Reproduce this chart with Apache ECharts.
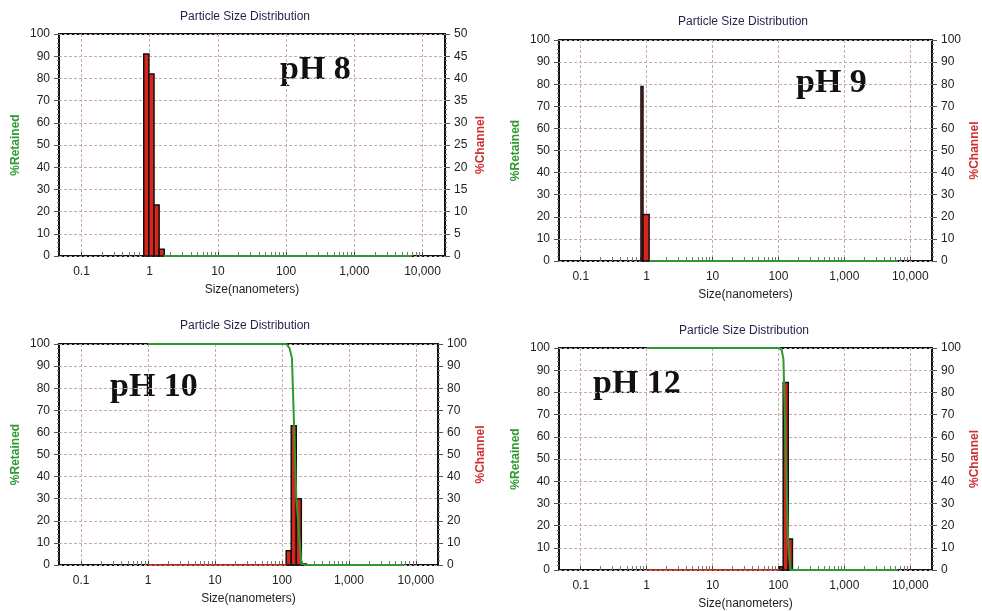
<!DOCTYPE html>
<html>
<head>
<meta charset="utf-8">
<title>Particle Size Distribution</title>
<script src="https://cdn.jsdelivr.net/npm/echarts@6/dist/echarts.min.js"></script>
<style>
  html, body { margin: 0; padding: 0; background: #fff; }
  #chart { width: 982px; height: 611px; }
</style>
</head>
<body>
<div id="chart"></div>
<script>
// panels, in reading order
const panelLabels = ['pH 8', 'pH 9', 'pH 10', 'pH 12'];
const channelMax = [50, 100, 100, 100];

// x axis (size, nm, log scale)
const xTickSizes = [0.1, 1, 10, 100, 1000, 10000];
const xTickLabels = ['0.1', '1', '10', '100', '1,000', '10,000'];
const minorTickSizes = [0.2, 0.3, 0.4, 0.5, 0.6, 0.7, 0.8, 0.9,
  2, 3, 4, 5, 6, 7, 8, 9, 20, 30, 40, 50, 60, 70, 80, 90,
  200, 300, 400, 500, 600, 700, 800, 900, 2000, 3000, 4000, 5000, 6000, 7000, 8000, 9000];

// %Channel histogram: channel edges (nm) and % per channel
const ph8Edges = [0.818, 0.972, 1.156, 1.375, 1.635];
const ph8Channel = [45.5, 41, 11.5, 1.5];
const ph9Edges = [0.82, 0.88, 1.09];
const ph9Channel = [79, 21];
const ph10Edges = [115.6, 137.5, 163.5, 194.5, 231.3];
const ph10Channel = [6.5, 63, 30, 0.5];
const ph12Edges = [104, 118, 141, 163];
const ph12Channel = [1.5, 84.5, 14];
// where the zero line of the histogram starts (nm)
const channelStart = [null, null, 1, 1];

// %Retained curve
const ph8RetSize = [1.6, 7000];
const ph8RetPct = [0, 0];
const ph9RetSize = [1.1, 6500];
const ph9RetPct = [0, 0];
const ph10RetSize = [1, 117, 130, 141, 163.5, 194.5, 231.3, 6700];
const ph10RetPct = [100, 100, 98, 93.5, 30.5, 0.5, 0, 0];
const ph12RetSize = [1, 104, 112, 119, 141, 152, 6500];
const ph12RetPct = [100, 100, 99, 95, 10, 0, 0];

const edges = [ph8Edges, ph9Edges, ph10Edges, ph12Edges];
const channels = [ph8Channel, ph9Channel, ph10Channel, ph12Channel];
const retSizes = [ph8RetSize, ph9RetSize, ph10RetSize, ph12RetSize];
const retPcts = [ph8RetPct, ph9RetPct, ph10RetPct, ph12RetPct];

const lg = v => Math.log10(v);
const X_MIN = -1.33, X_MAX = 4.33;

const grids = [
  { left: 59, top: 34, width: 386, height: 222 },
  { left: 559, top: 40, width: 375, height: 221 },
  { left: 59, top: 344, width: 379, height: 221 },
  { left: 559, top: 348, width: 378, height: 222 }
];
const titlePos = [[245, 17], [743, 22], [245, 326], [744, 331]];
const phPos = [[280, 70], [796, 83], [110, 387], [593, 384]];

const FONT = '"Liberation Sans", Arial, sans-serif';
const gridDash = { color: '#c9abab', type: [3, 2], width: 1 };

const xAxes = [], yAxes = [], series = [], graphics = [];

grids.forEach((g, i) => {
  xAxes.push({
    type: 'value', gridIndex: i, min: X_MIN, max: X_MAX,
    name: 'Size(nanometers)', nameLocation: 'middle', nameGap: 28,
    nameTextStyle: { color: '#222', fontSize: 12, fontFamily: FONT },
    axisLine: { show: false, onZero: false },
    axisTick: { show: true, inside: true, length: 4, customValues: xTickSizes.map(lg),
      lineStyle: { color: '#444' } },
    axisLabel: { customValues: xTickSizes.map(lg), margin: 10, color: '#222', fontSize: 12, fontFamily: FONT,
      formatter: v => xTickLabels[xTickSizes.findIndex(s => Math.abs(lg(s) - v) < 1e-6)] },
    splitLine: { show: true, lineStyle: gridDash }
  });
  xAxes.push({
    type: 'value', gridIndex: i, min: X_MIN, max: X_MAX, position: 'bottom',
    axisLine: { show: false, onZero: false },
    axisTick: { show: true, inside: true, length: 4, customValues: minorTickSizes.map(lg),
      lineStyle: { color: '#777' } },
    axisLabel: { show: false },
    splitLine: { show: false }
  });
  yAxes.push({
    type: 'value', gridIndex: i, position: 'left', min: 0, max: 100, interval: 10,
    name: '%Retained', nameLocation: 'middle', nameGap: 37,
    nameTextStyle: { color: '#2f9a2f', fontSize: 12, fontWeight: 'bold', fontFamily: FONT },
    axisLine: { show: false, onZero: false },
    axisTick: { show: true, length: 5, lineStyle: { color: '#555' } },
    minorTick: { show: true, splitNumber: 5, length: 2, lineStyle: { color: '#777' } },
    axisLabel: { margin: 9, color: '#222', fontSize: 12, fontFamily: FONT },
    splitLine: { show: true, lineStyle: gridDash }
  });
  yAxes.push({
    type: 'value', gridIndex: i, position: 'right', min: 0, max: channelMax[i], interval: channelMax[i] / 10,
    name: '%Channel', nameLocation: 'middle', nameGap: i === 0 ? 30 : 37,
    nameTextStyle: { color: '#cc3030', fontSize: 12, fontWeight: 'bold', fontFamily: FONT },
    axisLine: { show: false, onZero: false },
    axisTick: { show: true, length: 5, lineStyle: { color: '#555' } },
    minorTick: { show: true, splitNumber: 5, length: 2, lineStyle: { color: '#777' } },
    axisLabel: { margin: 9, color: '#222', fontSize: 12, fontFamily: FONT },
    splitLine: { show: false }
  });

  if (channelStart[i] !== null) {
    series.push({
      type: 'line', xAxisIndex: 2 * i, yAxisIndex: 2 * i + 1, silent: true,
      symbol: 'none', lineStyle: { color: '#d83a2a', width: 1.5 },
      data: [[lg(channelStart[i]), 0], [lg(edges[i][0]), 0]]
    });
  }

  series.push({
    type: 'custom', xAxisIndex: 2 * i, yAxisIndex: 2 * i + 1, silent: true,
    encode: { x: [0, 1], y: 2 },
    data: channels[i].map((v, k) => [lg(edges[i][k]), lg(edges[i][k + 1]), v]),
    renderItem: (params, api) => {
      const lo = api.coord([api.value(0), 0]);
      const hi = api.coord([api.value(1), api.value(2)]);
      return {
        type: 'rect',
        shape: { x: lo[0], y: hi[1], width: hi[0] - lo[0], height: lo[1] - hi[1] },
        style: { fill: '#d9261c', stroke: '#111', lineWidth: 1.5 }
      };
    }
  });

  series.push({
    type: 'line', xAxisIndex: 2 * i, yAxisIndex: 2 * i, silent: true,
    symbol: 'none', lineStyle: { color: '#2e9a2e', width: 2 },
    data: retSizes[i].map((s, k) => [lg(s), retPcts[i][k]])
  });

  graphics.push({
    type: 'text', x: titlePos[i][0], y: titlePos[i][1], silent: true,
    style: { text: 'Particle Size Distribution', fill: '#1f2248', font: '12px ' + FONT,
      textAlign: 'center', textVerticalAlign: 'middle' }
  });
  graphics.push({
    type: 'text', x: phPos[i][0], y: phPos[i][1], silent: true,
    style: { text: panelLabels[i], fill: '#111', font: 'bold 34px "Liberation Serif", "Times New Roman", serif',
      textAlign: 'left', textVerticalAlign: 'middle' }
  });
});

const chart = echarts.init(document.getElementById('chart'), null, { renderer: 'canvas' });
chart.setOption({
  animation: false,
  backgroundColor: '#fff',
  grid: grids.map(g => Object.assign({ show: true, borderColor: '#111', borderWidth: 2, backgroundColor: 'transparent' }, g)),
  xAxis: xAxes,
  yAxis: yAxes,
  series: series,
  graphic: graphics
});
</script>
</body>
</html>
